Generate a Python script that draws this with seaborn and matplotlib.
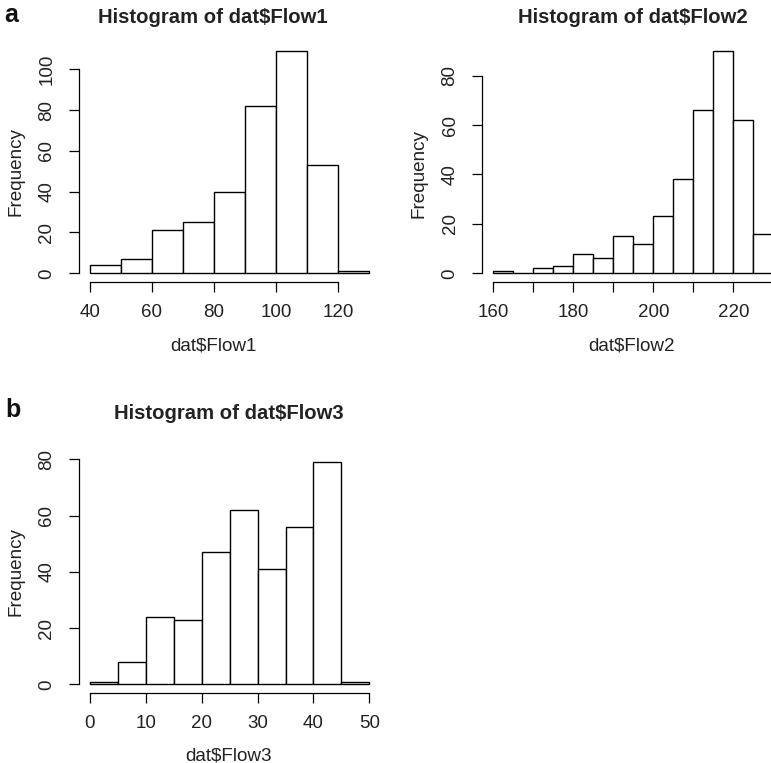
import numpy as np
import pandas as pd
import matplotlib
matplotlib.use('Agg')
import matplotlib.pyplot as plt
import seaborn as sns

sns.set_style('ticks')
plt.rcParams['font.family'] = ['Liberation Sans', 'DejaVu Sans']

# bin edges and counts
flow1_edges = [40, 50, 60, 70, 80, 90, 100, 110, 120, 130]
flow1_counts = [4, 7, 21, 25, 40, 82, 109, 53, 1]

flow2_edges = [160, 165, 170, 175, 180, 185, 190, 195, 200, 205, 210, 215, 220, 225, 230]
flow2_counts = [1, 0, 2, 3, 8, 6, 15, 12, 23, 38, 66, 90, 62, 16]

flow3_edges = [0, 5, 10, 15, 20, 25, 30, 35, 40, 45, 50]
flow3_counts = [1, 8, 24, 23, 47, 62, 41, 56, 79, 1]

flow1_xticks = [40, 60, 80, 100, 120]
flow1_yticks = [0, 20, 40, 60, 80, 100]
flow2_xticks = [160, 170, 180, 190, 200, 210, 220, 230]
flow2_xlabels = ['160', '', '180', '', '200', '', '220', '']
flow2_yticks = [0, 20, 40, 60, 80]
flow3_xticks = [0, 10, 20, 30, 40, 50]
flow3_yticks = [0, 20, 40, 60, 80]

W, H = 771, 763
fig = plt.figure(figsize=(W / 100, H / 100), dpi=100)


def px_axes(x0, x1, y0, y1):
    # pixel box (from top-left) -> axes
    return fig.add_axes([x0 / W, 1 - y1 / H, (x1 - x0) / W, (y1 - y0) / H])


def r_hist(ax, edges, counts, xticks, yticks, xlabels=None):
    centers = [(a + b) / 2 for a, b in zip(edges[:-1], edges[1:])]
    df = pd.DataFrame({'x': centers, 'w': counts})
    sns.histplot(data=df, x='x', weights='w', bins=list(edges), stat='count',
                 color='white', edgecolor='black', linewidth=1.0, alpha=1,
                 ax=ax)
    xr = edges[-1] - edges[0]
    ymax = max(counts)
    ax.set_xlim(edges[0] - 0.04 * xr, edges[-1] + 0.04 * xr)
    ax.set_ylim(-0.04 * ymax, ymax * 1.04)
    ax.set_xticks(xticks)
    if xlabels is not None:
        ax.set_xticklabels(xlabels)
    ax.set_yticks(yticks)
    ax.set_xlabel('')
    ax.set_ylabel('')
    sns.despine(ax=ax)
    ax.spines['bottom'].set_bounds(xticks[0], xticks[-1])
    ax.spines['left'].set_bounds(yticks[0], yticks[-1])
    for s in ('bottom', 'left'):
        ax.spines[s].set_linewidth(0.9)
        ax.spines[s].set_color('black')
    ax.tick_params(axis='both', length=7, width=0.9, color='black',
                   labelsize=13.5, labelcolor='#222222')
    ax.tick_params(axis='x', pad=9)
    ax.tick_params(axis='y', pad=10, labelrotation=90)
    for lab in ax.get_yticklabels():
        lab.set_verticalalignment('center')
    ax.patch.set_alpha(0)


ax1 = px_axes(78.8, 380.2, 42.0, 282.2)
r_hist(ax1, flow1_edges, flow1_counts, flow1_xticks, flow1_yticks)

ax2 = px_axes(482.2, 784.5, 42.0, 282.2)
r_hist(ax2, flow2_edges, flow2_counts, flow2_xticks, flow2_yticks, flow2_xlabels)

ax3 = px_axes(78.8, 380.5, 453.4, 693.2)
r_hist(ax3, flow3_edges, flow3_counts, flow3_xticks, flow3_yticks)


def ftext(x, y, s, **kw):
    fig.text(x / W, 1 - y / H, s, **kw)


title_kw = dict(ha='center', va='baseline', fontsize=14.6, fontweight='bold', color='#222222')
ftext(213, 23, 'Histogram of dat$Flow1', **title_kw)
ftext(633, 23, 'Histogram of dat$Flow2', **title_kw)
ftext(229, 419, 'Histogram of dat$Flow3', **title_kw)

lab_kw = dict(ha='center', va='baseline', fontsize=13.6, color='#222222')
ftext(213.5, 350, 'dat$Flow1', **lab_kw)
ftext(632, 350, 'dat$Flow2', **lab_kw)
ftext(229, 760, 'dat$Flow3', **lab_kw)

ylab_kw = dict(ha='center', va='center', rotation=90, fontsize=13.6, color='#222222')
ftext(16, 171.5, 'Frequency', **ylab_kw)
ftext(419, 174, 'Frequency', **ylab_kw)
ftext(16, 571.7, 'Frequency', **ylab_kw)

ftext(4, 21.7, 'a', ha='left', va='baseline', fontsize=18, fontweight='bold', color='#111111')
ftext(5, 416.7, 'b', ha='left', va='baseline', fontsize=18, fontweight='bold', color='#111111')

fig.savefig('out.png', dpi=100)
